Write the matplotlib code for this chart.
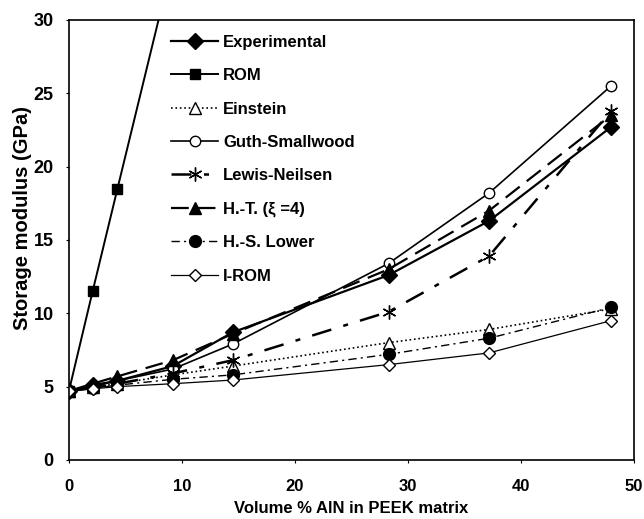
import matplotlib
matplotlib.use("Agg")
from matplotlib import pyplot as plt

plt.rcParams['font.family'] = ['Liberation Sans', 'DejaVu Sans']

# volume % AlN
vol = [0, 2.1, 4.3, 9.2, 14.5, 28.3, 37.2, 48.0]
vol_rom = [0, 2.1, 4.3, 9.2]

experimental = [4.7, 5.1, 5.4, 6.4, 8.7, 12.6, 16.3, 22.7]
rom = [4.7, 11.5, 18.5, 34.0]
einstein = [4.7, 5.0, 5.2, 5.8, 6.4, 8.0, 8.9, 10.3]
guth_smallwood = [4.7, 5.0, 5.4, 6.2, 7.9, 13.4, 18.2, 25.5]
lewis_neilsen = [4.7, 4.9, 5.2, 5.9, 6.8, 10.1, 13.9, 23.8]
halpin_tsai = [4.7, 5.2, 5.7, 6.8, 8.6, 13.0, 17.0, 23.5]
hs_lower = [4.7, 4.9, 5.1, 5.5, 5.8, 7.2, 8.3, 10.4]
i_rom = [4.7, 4.85, 5.0, 5.2, 5.45, 6.5, 7.3, 9.5]

fig = plt.figure(figsize=(6.44, 5.19), dpi=100)
ax = fig.add_axes([0.107, 0.1137, 0.877, 0.848])

ax.plot(vol, experimental, '-', color='black', lw=1.6, marker='D', ms=8.5,
	mfc='black', label='Experimental')
ax.plot(vol_rom, rom, '-', color='black', lw=1.4, marker='s', ms=7.5,
	mfc='black', label='ROM')
ax.plot(vol, einstein, ':', color='black', lw=1.2, marker='^', ms=8,
	mfc='white', label='Einstein')
ax.plot(vol, guth_smallwood, '-', color='black', lw=1.2, marker='o', ms=7.5,
	mfc='white', label='Guth-Smallwood')
# asterisk marker: 6 spokes
ax.plot(vol, lewis_neilsen, color='black', lw=1.8, dashes=(8, 5, 2, 5),
	marker=(6, 2, 0), ms=10, mew=1.0, label='Lewis-Neilsen')
ax.plot(vol, halpin_tsai, color='black', lw=1.6, dashes=(8, 4),
	marker='^', ms=8.5, mfc='black', label='H.-T. (\u03be =4)')
ax.plot(vol, hs_lower, color='black', lw=1.0, dashes=(6, 3, 1.5, 3),
	marker='o', ms=8.5, mfc='black', label='H.-S. Lower')
ax.plot(vol, i_rom, '-', color='black', lw=0.9, marker='D', ms=6.5,
	mfc='white', label='I-ROM')

ax.set_xlim(0, 50)
ax.set_ylim(0, 30)
ax.set_xticks(range(0, 51, 10))
ax.set_yticks(range(0, 31, 5))
ax.tick_params(length=2, width=0.8)
ax.tick_params(axis='x', pad=12, labelsize=12)
ax.tick_params(axis='y', pad=9, labelsize=13)
for lab in ax.get_xticklabels() + ax.get_yticklabels():
	lab.set_fontweight('bold')
for sp in ax.spines.values():
	sp.set_linewidth(1.2)

plt.xlabel('Volume % AlN in PEEK matrix', fontsize=12, fontweight='bold', labelpad=5)
plt.ylabel('Storage modulus (GPa)', fontsize=14.5, fontweight='bold')
ax.yaxis.set_label_coords(-0.066, 0.55)

handles, labels = ax.get_legend_handles_labels()
leg = ax.legend(handles, labels, loc='upper left', bbox_to_anchor=(0.155, 1.0),
	frameon=False, prop={'weight': 'bold', 'size': 12}, labelspacing=1.1,
	handlelength=2.8, handletextpad=0.3)

plt.savefig('out.png', dpi=100)
